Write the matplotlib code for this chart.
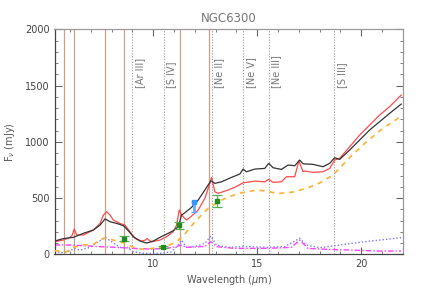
import matplotlib
matplotlib.use("Agg")
import matplotlib.pyplot as plt
from matplotlib.ticker import MultipleLocator

# ---------------- data ----------------
title = "NGC6300"

wl_obs = [5.25, 5.68, 6.16, 6.64, 7.12, 7.44, 7.68, 7.92, 8.24, 8.56, 8.8, 9.04, 9.36, 9.68,
          10.0, 10.32, 10.64, 10.96, 11.2, 11.36, 11.52, 11.68, 11.84, 12.16, 12.48, 12.77,
          12.96, 13.28, 13.76, 14.16, 14.32, 14.48, 14.88, 15.36, 15.55, 15.76, 16.16, 16.48,
          16.8, 17.04, 17.2, 17.68, 18.16, 18.48, 18.72, 18.96, 19.44, 19.92, 20.4, 20.88,
          21.36, 21.92]
flux_obs = [118, 140, 151, 187, 216, 260, 315, 290, 275, 255, 210, 157, 118, 100,
            118, 151, 180, 210, 245, 349, 370, 394, 418, 483, 572, 654,
            631, 645, 684, 714, 758, 734, 758, 764, 809, 770, 755, 794,
            788, 838, 805, 800, 779, 809, 859, 844, 927, 1016, 1105, 1179,
            1253, 1336]

wl_mod = [5.25, 5.68, 6.0, 6.1, 6.2, 6.32, 6.64, 7.12, 7.44, 7.6, 7.76, 7.92, 8.08, 8.4,
          8.64, 8.88, 9.12, 9.44, 9.6, 9.7, 9.8, 9.92, 10.32, 10.64, 10.96, 11.12, 11.25,
          11.36, 11.6, 11.84, 12.16, 12.48, 12.72, 12.8, 12.96, 13.12, 13.6, 13.92, 14.32,
          14.88, 15.36, 15.55, 15.76, 16.16, 16.4, 16.8, 17.0, 17.2, 17.3, 17.68, 18.16,
          18.48, 18.72, 18.96, 19.44, 19.92, 20.4, 20.88, 21.36, 21.92]
flux_mod = [112, 127, 151, 170, 225, 172, 172, 216, 275, 349, 379, 349, 305, 275,
            260, 201, 142, 118, 125, 140, 125, 112, 127, 157, 201, 260, 394,
            349, 305, 340, 394, 498, 631, 684, 556, 542, 572, 596, 636,
            651, 645, 667, 640, 645, 690, 690, 832, 735, 740, 729, 734,
            764, 838, 853, 956, 1060, 1149, 1238, 1312, 1416]

wl_cont = [5.25, 5.84, 6.16, 6.64, 7.12, 7.44, 7.7, 8.08, 8.56, 9.04, 9.52, 10.0, 10.48,
           10.96, 11.2, 11.44, 12.0, 12.64, 13.28, 14.08, 15.0, 15.5, 16.0, 16.8, 17.52,
           18.0, 18.64, 19.44, 20.24, 21.04, 21.92]
flux_cont = [32, 23, 62, 83, 89, 127, 148, 127, 103, 62, 44, 53, 62,
             98, 127, 163, 290, 409, 483, 542, 572, 560, 540, 556, 598,
             635, 705, 860, 1000, 1120, 1228]

wl_blue = [5.25, 5.68, 6.0, 6.2, 6.48, 6.96, 7.36, 7.68, 8.0, 8.4, 8.72, 9.04, 9.52, 10.32,
           10.88, 11.2, 11.36, 11.6, 12.0, 12.48, 12.77, 13.04, 13.6, 14.32, 15.52, 16.32,
           17.04, 17.36, 18.0, 18.96, 19.92, 20.88, 21.92]
flux_blue = [23, 14, 30, 53, 38, 62, 112, 151, 112, 62, 62, 23, 9, 9,
             23, 83, 125, 62, 68, 98, 163, 83, 62, 70, 62, 70,
             142, 83, 59, 83, 107, 127, 148]

wl_mag = [5.25, 6.0, 6.64, 7.44, 8.24, 9.04, 9.84, 10.64, 11.12, 11.3, 11.6, 12.48, 12.77,
          13.04, 13.92, 15.52, 16.64, 17.04, 17.44, 18.0, 19.44, 20.88, 21.92]
flux_mag = [83, 83, 77, 68, 62, 53, 47, 53, 68, 83, 62, 70, 112,
            68, 53, 53, 62, 127, 53, 47, 38, 29, 29]

phot_wl = [8.6, 10.48, 11.25, 13.04]
phot_flux = [140, 66, 258, 475]
phot_err = [20, 12, 33, 50]

blue_pt_wl = [11.97]
blue_pt_flux = [465]
blue_pt_err_low = [85]

pah_lines = [5.7, 6.2, 7.7, 8.6, 11.3, 12.7]
ion_lines = [8.99, 10.51, 12.81, 14.32, 15.55, 18.71]
ion_labels = ["[Ar III]", "[S IV]", "[Ne II]", "[Ne V]", "[Ne III]", "[S III]"]

# ---------------- plot ----------------
fig = plt.figure(figsize=(4.36, 2.91), dpi=100)
ax = fig.add_axes([0.125, 0.126, 0.799, 0.773])

for x in pah_lines:
    ax.axvline(x, color="#c9a08c", lw=0.9, zorder=1)
for x, lab in zip(ion_lines, ion_labels):
    ax.axvline(x, color="#999999", lw=0.8, ls=(0, (1, 1.5)), zorder=1)
    ax.text(x + 0.12, 1480, lab, rotation=90, ha="left", va="bottom",
            fontsize=7, color="#777777")

ax.plot(wl_blue, flux_blue, color="#7b7bff", lw=1.0, ls=(0, (1, 1.5)), zorder=2)
ax.plot(wl_mag, flux_mag, color="#ff40ff", lw=1.0, ls=(0, (4, 1.5, 1, 1.5)), zorder=2)
ax.plot(wl_cont, flux_cont, color="#ffb030", lw=1.2, ls=(0, (3, 3)), zorder=3)
ax.plot(wl_mod, flux_mod, color="#ff4a4a", lw=0.9, zorder=4)
ax.plot(wl_obs, flux_obs, color="#333333", lw=0.9, zorder=5)

ax.errorbar(phot_wl, phot_flux, yerr=phot_err, fmt="s", ms=3, color="#1f8a1f",
            ecolor="#55b055", elinewidth=0.9, capsize=3.5, capthick=0.9, zorder=6)
ax.errorbar(blue_pt_wl, blue_pt_flux, yerr=[blue_pt_err_low, [0]], fmt="s", ms=3.5,
            color="#3399ff", ecolor="#66aaff", elinewidth=2.0, capsize=2, zorder=6)

ax.set_xlim(5.25, 22)
ax.set_ylim(0, 2000)
ax.xaxis.set_major_locator(MultipleLocator(5))
ax.xaxis.set_minor_locator(MultipleLocator(1))
ax.yaxis.set_major_locator(MultipleLocator(500))
ax.yaxis.set_minor_locator(MultipleLocator(100))
ax.tick_params(which="both", direction="in", top=True, right=True,
               labelsize=7, labelcolor="#444444", colors="#666666")
ax.tick_params(which="major", length=5, width=0.8)
ax.tick_params(which="minor", length=2.5, width=0.6)
for s in ["top", "right"]:
    ax.spines[s].set_color("#999999")
for s in ["left", "bottom"]:
    ax.spines[s].set_color("#444444")
for s in ax.spines.values():
    s.set_linewidth(0.9)

ax.set_xlabel("Wavelength ($\\mu$m)", fontsize=7, color="#555555", labelpad=3)
ax.set_ylabel("F$_\\nu$ (mJy)", fontsize=7, color="#555555", labelpad=6)
ax.set_title(title, fontsize=8.5, color="#777777", pad=5)

fig.savefig("out.png", dpi=100)
